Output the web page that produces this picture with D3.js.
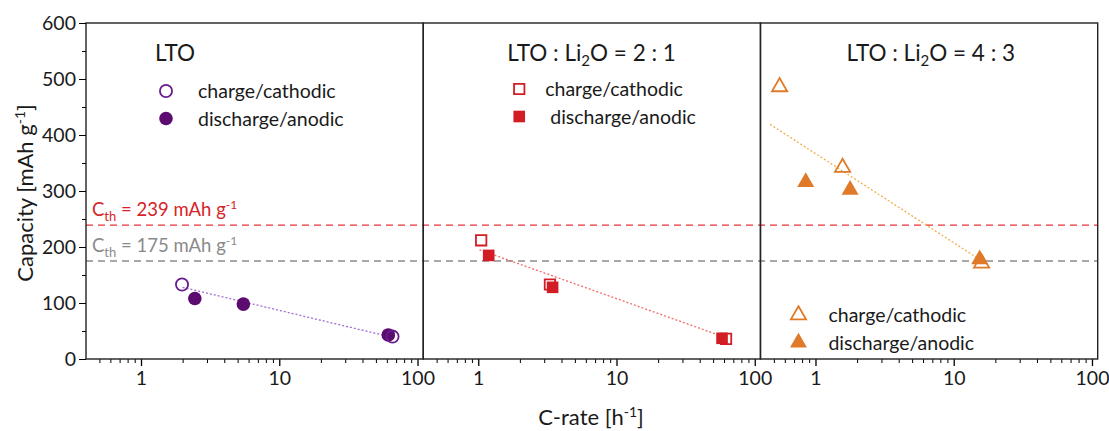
<!DOCTYPE html>
<html>
<head>
<meta charset="utf-8">
<script src="https://cdn.jsdelivr.net/npm/d3@7"></script>
<style>
  body { margin: 0; background: #fff; }
  svg text { font-family: Lato, "Open Sans", sans-serif; fill: #1a1a1a; }
</style>
</head>
<body>
<div id="chart"></div>
<script>
// values: [C-rate, capacity]
const ltoCharge = [[1.98, 133], [66, 40]];
const ltoDischarge = [[2.45, 108], [5.5, 98], [61.5, 43]];
const ltoTrend = [[2.0, 128], [65, 39]];

const li21Charge = [[1.05, 212], [3.3, 133], [62, 36]];
const li21Discharge = [[1.19, 185], [3.45, 128], [58, 37]];
const li21Trend = [[1.02, 195], [56, 42]];

const li43Charge = [[0.55, 486], [1.57, 342], [15.9, 171]];
const li43Discharge = [[0.85, 316], [1.78, 302], [15.4, 178]];
const li43Trend = [[0.47, 419], [14.9, 180]];

const cthValues = [239, 175];
const yTicks = [0, 100, 200, 300, 400, 500, 600];
const yMinor = [50, 150, 250, 350, 450, 550];
const xTicks = [1, 10, 100];
const xMinor = [0.5, 0.6, 0.7, 0.8, 0.9, 2, 3, 4, 5, 6, 7, 8, 9, 20, 30, 40, 50, 60, 70, 80, 90];

const W = 1109, H = 431;
const margin = { top: 23, left: 86, right: 11.3, bottom: 72 };
const plotW = W - margin.left - margin.right;
const panelW = plotW / 3;
const plotH = H - margin.top - margin.bottom;

const svg = d3.select('#chart').append('svg')
    .attr('width', W).attr('height', H);

let g = svg.append('g')
    .attr('transform', `translate(${margin.left},${margin.top})`);

let yscale = d3.scaleLinear().domain([0, 600]).range([plotH, 0]);

const panels = [
    { title: [['LTO', null]], charge: ltoCharge, discharge: ltoDischarge, trend: ltoTrend,
      shape: d3.symbolCircle, size: 145, color: '#5b0c6e', stroke: '#6a1c8c', trendColor: '#a36bd6',
      titleX: 69, legend: { x: 80, y: 68, tx: 112, tx2: 112 } },
    { title: [['LTO : Li', null], ['2', 'sub'], ['O = 2 : 1', null]], charge: li21Charge, discharge: li21Discharge, trend: li21Trend,
      shape: d3.symbolSquare, size: 135, color: '#d21d24', stroke: '#d21d24', trendColor: '#f06a6a',
      titleX: 84, legend: { x: 96, y: 66, tx: 122, tx2: 127 } },
    { title: [['LTO : Li', null], ['2', 'sub'], ['O = 4 : 3', null]], charge: li43Charge, discharge: li43Discharge, trend: li43Trend,
      shape: d3.symbolTriangle, size: 125, color: '#e07a28', stroke: '#e07a28', trendColor: '#f6ae4c',
      titleX: 86, legend: { x: 38, y: 292, tx: 68, tx2: 68 } }
];

// dashed theoretical capacity lines across all panels
g.selectAll('.cth')
    .data(cthValues)
    .join('line')
    .attr('class', 'cth')
    .attr('x1', 0).attr('x2', plotW)
    .attr('y1', d => yscale(d)).attr('y2', d => yscale(d))
    .attr('stroke', (d, i) => i == 0 ? '#e8333a' : '#8c8c8c')
    .attr('stroke-width', 1.4)
    .attr('stroke-dasharray', '7,5');

// labels
cthValues.forEach((v, i) => {
    let t = g.append('text')
        .attr('x', 6)
        .attr('y', yscale(v) - 9)
        .style('font-size', '18.5px')
        .style('fill', i == 0 ? '#d8232a' : '#8a8a8a');
    t.append('tspan').text('C');
    t.append('tspan').attr('dy', 5).style('font-size', '13px').text('th');
    t.append('tspan').attr('dy', -5).text(` = ${v} mAh g`);
    t.append('tspan').attr('dy', -7).style('font-size', '12px').text('-1');
});

panels.forEach((p, i) => {
    let x0 = i * panelW;
    let xscale = d3.scaleLog().domain([0.4, 110]).range([x0, x0 + panelW]);

    let pg = g.append('g');

    // x axis, major + minor
    pg.append('g')
        .attr('transform', `translate(0,${plotH})`)
        .call(d3.axisBottom(xscale).tickValues(xMinor).tickSize(4).tickSizeOuter(0).tickFormat(''))
        .call(a => a.select('.domain').remove());
    let xa = pg.append('g')
        .attr('transform', `translate(0,${plotH})`)
        .call(d3.axisBottom(xscale).tickValues(xTicks).tickSize(7).tickSizeOuter(0).tickPadding(5).tickFormat(d3.format('d')));
    xa.select('.domain').remove();
    xa.selectAll('text').style('font-size', '19.5px');
    xa.selectAll('line').attr('stroke-width', 1.3);

    // trend line
    pg.append('path')
        .datum(p.trend)
        .attr('d', d3.line().x(d => xscale(d[0])).y(d => yscale(d[1])))
        .attr('fill', 'none')
        .attr('stroke', p.trendColor)
        .attr('stroke-width', 1.3)
        .attr('stroke-dasharray', '2,2');

    let sym = d3.symbol().type(p.shape).size(p.size);

    pg.selectAll('.dis')
        .data(p.discharge)
        .join('path')
        .attr('class', 'dis')
        .attr('transform', d => `translate(${xscale(d[0])},${yscale(d[1])})`)
        .attr('d', sym)
        .attr('fill', p.color);

    pg.selectAll('.chg')
        .data(p.charge)
        .join('path')
        .attr('class', 'chg')
        .attr('transform', d => `translate(${xscale(d[0])},${yscale(d[1])})`)
        .attr('d', d3.symbol().type(p.shape).size(p.size * 0.8))
        .attr('fill', 'none')
        .attr('stroke', p.stroke)
        .attr('stroke-width', 1.8);

    // panel title
    let t = pg.append('text')
        .attr('x', x0 + p.titleX)
        .attr('y', 38)
        .style('font-size', '22.5px');
    p.title.forEach(s => {
        if (s[1] == 'sub') {
            t.append('tspan').attr('dy', 5).style('font-size', '15px').text(s[0]);
        } else {
            let ts = t.append('tspan').text(s[0]);
            if (t.selectAll('tspan').size() > 1) ts.attr('dy', -5);
        }
    });

    // legend
    let L = p.legend;
    pg.append('path')
        .attr('transform', `translate(${x0 + L.x},${L.y})`)
        .attr('d', d3.symbol().type(p.shape).size(p.size * 0.8))
        .attr('fill', 'none').attr('stroke', p.stroke).attr('stroke-width', 1.8);
    pg.append('path')
        .attr('transform', `translate(${x0 + L.x},${L.y + 27.5})`)
        .attr('d', sym)
        .attr('fill', p.color);
    pg.append('text').attr('x', x0 + L.tx).attr('y', L.y + 7)
        .style('font-size', '19.5px').text('charge/cathodic');
    pg.append('text').attr('x', x0 + L.tx2).attr('y', L.y + 34.5)
        .style('font-size', '19.5px').text('discharge/anodic');

    // panel frame
    pg.append('rect')
        .attr('x', x0).attr('y', 0)
        .attr('width', panelW).attr('height', plotH)
        .attr('fill', 'none')
        .attr('stroke', '#222')
        .attr('stroke-width', 1.4);
});

// y axis
g.append('g')
    .call(d3.axisLeft(yscale).tickValues(yMinor).tickSize(4).tickFormat(''))
    .call(a => a.select('.domain').remove());
let ya = g.append('g')
    .call(d3.axisLeft(yscale).tickValues(yTicks).tickSize(7).tickSizeOuter(0).tickPadding(3));
ya.select('.domain').remove();
ya.selectAll('text').style('font-size', '19.5px');

// axis titles
let yt = svg.append('text')
    .attr('transform', `translate(33,${margin.top + plotH / 2 + 2}) rotate(-90)`)
    .attr('text-anchor', 'middle')
    .style('font-size', '22px');
yt.append('tspan').text('Capacity [mAh g');
yt.append('tspan').attr('dy', -8).style('font-size', '14px').text('-1');
yt.append('tspan').attr('dy', 8).text(']');

let xt = svg.append('text')
    .attr('x', 591)
    .attr('y', 425)
    .attr('text-anchor', 'middle')
    .style('font-size', '22px');
xt.append('tspan').text('C-rate [h');
xt.append('tspan').attr('dy', -8).style('font-size', '14px').text('-1');
xt.append('tspan').attr('dy', 8).text(']');
</script>
</body>
</html>
